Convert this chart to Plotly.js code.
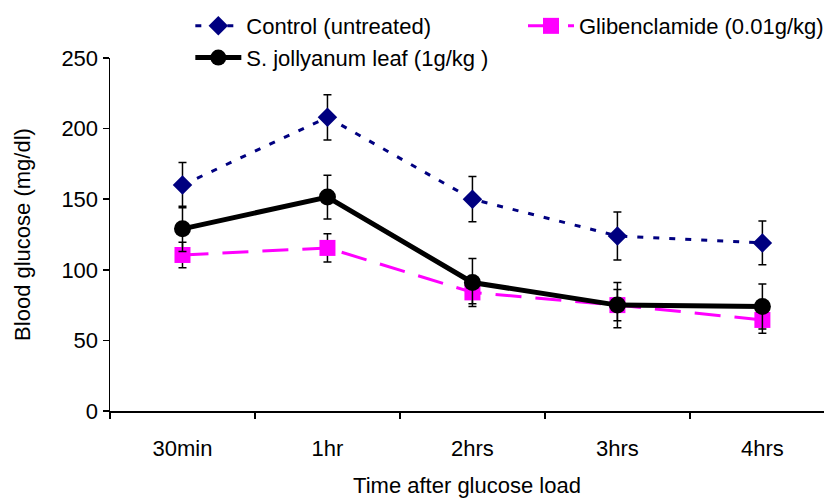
<!DOCTYPE html>
<html>
<head>
<meta charset="utf-8">
<script src="https://cdn.plot.ly/plotly-3.0.1.min.js"></script>
<style>html,body{margin:0;padding:0;background:#fff;}#chart{width:829px;height:498px;}</style>
</head>
<body>
<div id="chart"></div>
<script>
var categories = ["30min", "1hr", "2hrs", "3hrs", "4hrs"];
var controlValues = [160, 208, 150, 124, 119];
var controlErrors = [16, 16, 16, 17, 15.5];
var glibValues = [110.5, 115.5, 84, 75, 64.5];
var glibErrors = [9, 10, 8, 11, 9.5];
var sjValues = [129, 151.5, 91, 75, 74];
var sjErrors = [16, 15.5, 17, 16, 16];

var FONT = "Liberation Sans, Arial, sans-serif";

var traces = [
  {
    x: categories, y: controlValues, name: "Control (untreated)", type: "scatter", mode: "lines+markers",
    line: {color: "#000080", width: 3, dash: "6px,10px"},
    marker: {symbol: "diamond", size: 15, color: "#000080"},
    error_y: {type: "data", array: controlErrors, visible: true, color: "#000000", thickness: 1.5, width: 4},
    legend: "legend"
  },
  {
    x: categories, y: glibValues, name: "Glibenclamide (0.01g/kg)", type: "scatter", mode: "lines+markers",
    line: {color: "#FF00FF", width: 3, dash: "26px,14px"},
    marker: {symbol: "square", size: 16, color: "#FF00FF"},
    error_y: {type: "data", array: glibErrors, visible: true, color: "#000000", thickness: 1.5, width: 4},
    legend: "legend3"
  },
  {
    x: categories, y: sjValues, name: "S. jollyanum leaf (1g/kg )", type: "scatter", mode: "lines+markers",
    line: {color: "#000000", width: 5},
    marker: {symbol: "circle", size: 17, color: "#000000"},
    error_y: {type: "data", array: sjErrors, visible: true, color: "#000000", thickness: 1.5, width: 4},
    legend: "legend2"
  }
];

var legendBase = {
  orientation: "h", xanchor: "left", yanchor: "top",
  font: {family: FONT, size: 22}, itemwidth: 46,
  bgcolor: "rgba(0,0,0,0)"
};

var layout = {
  width: 829, height: 498,
  margin: {l: 110, r: 0, t: 58, b: 87},
  paper_bgcolor: "#fff", plot_bgcolor: "#fff",
  font: {family: FONT, size: 22, color: "#000"},
  showlegend: true,
  xaxis: {
    type: "category", range: [-0.5, 4.425],
    showline: true, linecolor: "#000", linewidth: 1.5,
    ticks: "outside", tickson: "boundaries", ticklen: 6, tickcolor: "#000", tickwidth: 1.5,
    showgrid: false, zeroline: false,
    tickfont: {family: FONT, size: 22}, ticklabelstandoff: 17,
    title: {text: "Time after glucose load", font: {family: FONT, size: 22}, standoff: 19}
  },
  yaxis: {
    range: [0, 250], dtick: 50,
    showline: true, linecolor: "#000", linewidth: 1.5,
    ticks: "outside", ticklen: 6, tickcolor: "#000", tickwidth: 1.5,
    showgrid: false, zeroline: false,
    tickfont: {family: FONT, size: 22},
    title: {text: "Blood glucose (mg/dl)", font: {family: FONT, size: 22}, standoff: 24}
  },
  legend: Object.assign({}, legendBase, {x: 0.1125, y: 1.15}),
  legend3: Object.assign({}, legendBase, {x: 0.5786, y: 1.15}),
  legend2: Object.assign({}, legendBase, {x: 0.1125, y: 1.06})
};

Plotly.newPlot("chart", traces, layout, {displayModeBar: false, staticPlot: true});
</script>
</body>
</html>
